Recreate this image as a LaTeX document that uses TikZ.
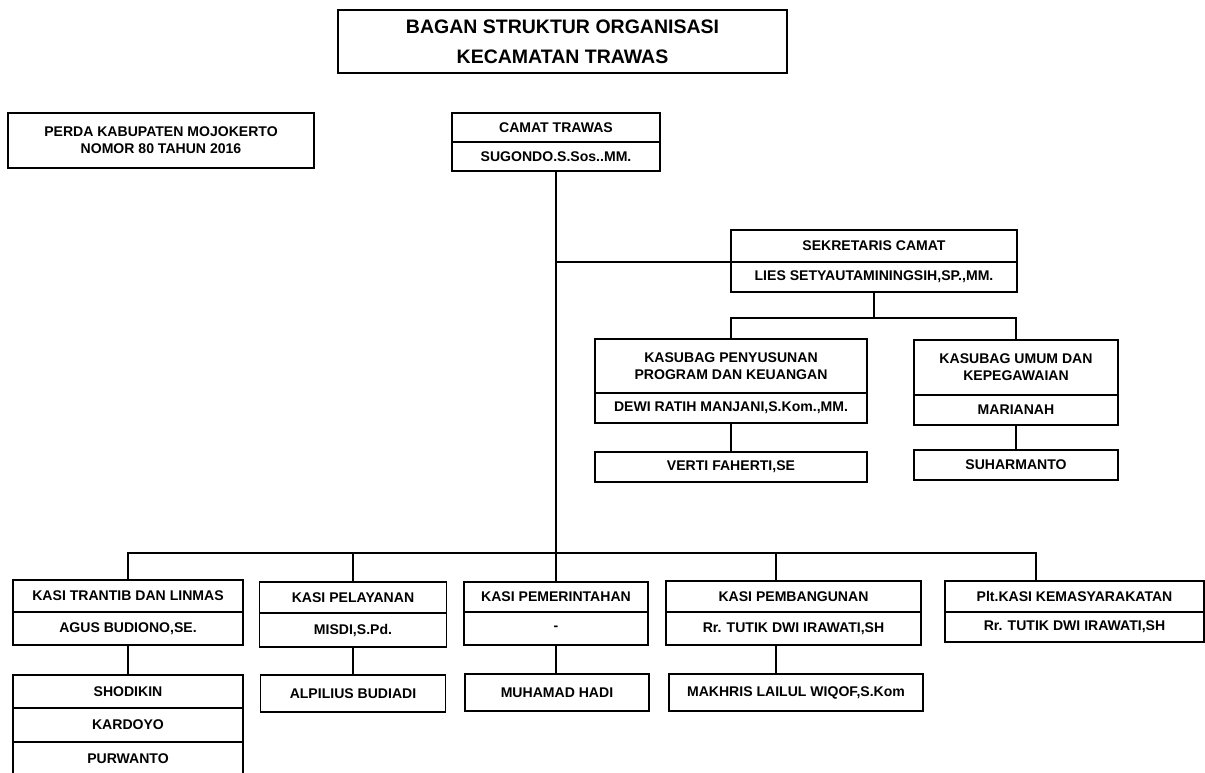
\documentclass[tikz,border=0pt]{standalone}
\usepackage{fontspec}
\setmainfont{Liberation Sans}
\usepackage{tikz}
\tikzstyle{kotak} = [rectangle, draw=black, line width=1.1pt, inner sep=0pt, outer sep=0pt, align=center, font=\fontsize{8}{9.8}\selectfont\bfseries]
\tikzstyle{judul} = [kotak, font=\fontsize{11.1}{17}\selectfont\bfseries]
\tikzstyle{garis} = [line width=1.1pt, line cap=rect]

\begin{document}
\begin{tikzpicture}[x=0.02cm, y=-0.02cm]
\useasboundingbox (0,0) rectangle (1205,772);
\node (judul) [judul, minimum width=8.98cm, minimum height=1.26cm] at (562.5,41.5) {BAGAN STRUKTUR ORGANISASI\\KECAMATAN TRAWAS};
\node (perda) [kotak, minimum width=6.12cm, minimum height=1.10cm] at (161,140.5) {PERDA KABUPATEN MOJOKERTO\\NOMOR 80 TAHUN 2016};

\node (camat) [kotak, minimum width=4.16cm, minimum height=0.58cm] at (556,127.5) {CAMAT TRAWAS};
\node (camatn) [kotak, minimum width=4.16cm, minimum height=0.58cm] at (556,156.5) {SUGONDO.S.Sos..MM.};

\node (sek) [kotak, minimum width=5.72cm, minimum height=0.64cm] at (874,246) {SEKRETARIS CAMAT};
\node (sekn) [kotak, minimum width=5.72cm, minimum height=0.60cm] at (874,277) {LIES SETYAUTAMININGSIH,SP.,MM.};
\coordinate (cabang) at (874,318);

\node (kp) [kotak, minimum width=5.44cm, minimum height=1.08cm] at (731,366) {KASUBAG PENYUSUNAN\\PROGRAM DAN KEUANGAN};
\node (kpn) [kotak, minimum width=5.44cm, minimum height=0.60cm] at (731,408) {DEWI RATIH MANJANI,S.Kom.,MM.};
\node (verti) [kotak, minimum width=5.44cm, minimum height=0.60cm] at (731,467) {VERTI FAHERTI,SE};

\node (ku) [kotak, minimum width=4.08cm, minimum height=1.10cm] at (1016,367.5) {KASUBAG UMUM DAN\\KEPEGAWAIAN};
\node (kun) [kotak, minimum width=4.08cm, minimum height=0.60cm] at (1016,410) {MARIANAH};
\node (suh) [kotak, minimum width=4.08cm, minimum height=0.60cm] at (1016,465) {SUHARMANTO};

\coordinate (busL) at (128,553);
\coordinate (busR) at (1036,553);
\coordinate (t4) at (776,553);

\node (k1) [kotak, minimum width=4.60cm, minimum height=0.64cm] at (128,596) {KASI TRANTIB DAN LINMAS};
\node (k1n) [kotak, minimum width=4.60cm, minimum height=0.66cm] at (128,628.5) {AGUS BUDIONO,SE.};
\node (shodikin) [kotak, minimum width=4.60cm, minimum height=0.66cm] at (128,691.5) {SHODIKIN};
\node (kardoyo) [kotak, minimum width=4.60cm, minimum height=0.68cm] at (128,725) {KARDOYO};
\node (purwanto) [kotak, minimum width=4.60cm, minimum height=0.68cm] at (128,759) {PURWANTO};

\node (k2) [kotak, minimum width=3.74cm, minimum height=0.62cm] at (353,597.5) {KASI PELAYANAN};
\node (k2n) [kotak, minimum width=3.74cm, minimum height=0.68cm] at (353,630) {MISDI,S.Pd.};
\node (alpilius) [kotak, minimum width=3.70cm, minimum height=0.74cm] at (353,693.5) {ALPILIUS BUDIADI};

\node (k3) [kotak, minimum width=3.68cm, minimum height=0.60cm] at (556,597) {KASI PEMERINTAHAN};
\node (k3n) [kotak, minimum width=3.68cm, minimum height=0.66cm] at (556,628.5) {-};
\node (hadi) [kotak, minimum width=3.68cm, minimum height=0.74cm] at (557,692.5) {MUHAMAD HADI};

\node (k4) [kotak, minimum width=5.10cm, minimum height=0.62cm] at (793.5,596.5) {KASI PEMBANGUNAN};
\node (k4n) [kotak, minimum width=5.10cm, minimum height=0.66cm] at (793.5,628.5) {Rr. TUTIK DWI IRAWATI,SH};
\node (makhris) [kotak, minimum width=5.08cm, minimum height=0.74cm] at (796,692.5) {MAKHRIS LAILUL WIQOF,S.Kom};

\node (k5) [kotak, minimum width=5.18cm, minimum height=0.62cm] at (1074.5,596.5) {Plt.KASI KEMASYARAKATAN};
\node (k5n) [kotak, minimum width=5.18cm, minimum height=0.60cm] at (1074.5,627) {Rr. TUTIK DWI IRAWATI,SH};

\draw [garis] (camatn.south) -- (k3.north);
\draw [garis] (camatn.south |- sekn.north west) -- (sekn.north west);
\draw [garis] (sekn.south) -- (cabang);
\draw [garis] (kp.north) -- (kp.north |- cabang) -- (ku.north |- cabang) -- (ku.north);
\draw [garis] (kpn.south) -- (verti.north);
\draw [garis] (kun.south) -- (suh.north);
\draw [garis] (k1.north) -- (busL) -- (busR) -- (busR |- k5.north);
\draw [garis] (k2.north |- busL) -- (k2.north);
\draw [garis] (t4) -- (t4 |- k4.north);
\draw [garis] (k1n.south) -- (shodikin.north);
\draw [garis] (k2n.south) -- (k2n.south |- alpilius.north);
\draw [garis] (k3n.south) -- (k3n.south |- hadi.north);
\draw [garis] (k4n.south -| t4) -- (t4 |- makhris.north);
\end{tikzpicture}
\end{document}
